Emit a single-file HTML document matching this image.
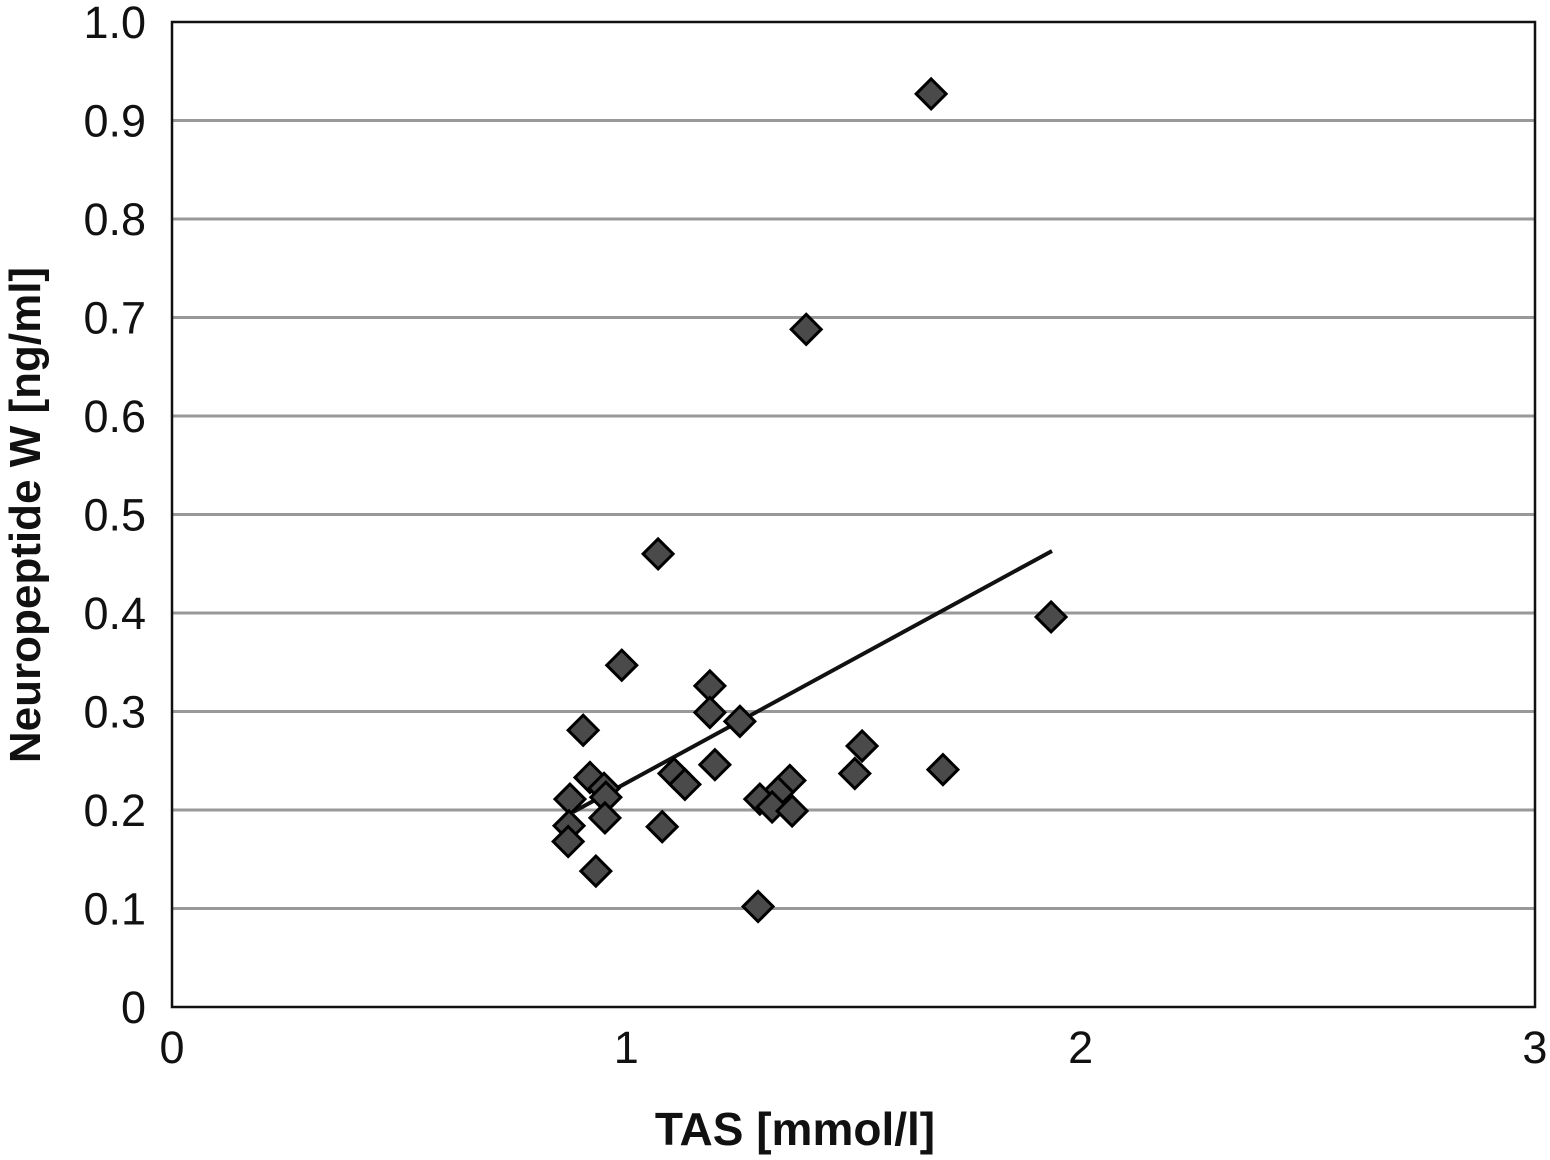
<!DOCTYPE html>
<html><head><meta charset="utf-8"><style>
body{margin:0;background:#fff;}
svg text{font-family:"Liberation Sans","DejaVu Sans",sans-serif;fill:#111;}
</style></head><body>
<svg width="1550" height="1155" viewBox="0 0 1550 1155" xmlns="http://www.w3.org/2000/svg">
<g id="grid"></g>
<rect x="172" y="22" width="1363" height="985" fill="none" stroke="#111" stroke-width="2.5"/>
<g id="yt"></g>
<g id="xt"></g>
<line id="trend" stroke="#111" stroke-width="4"/>
<g id="pts"></g>
<text x="795" y="1145" text-anchor="middle" font-size="46" font-weight="bold">TAS [mmol/l]</text>
<text transform="translate(40,515) rotate(-90)" text-anchor="middle" font-size="44" font-weight="bold">Neuropeptide W [ng/ml]</text>
</svg>
<script>
const xTicks=[0,1,2,3];
const yTicks=[0,0.1,0.2,0.3,0.4,0.5,0.6,0.7,0.8,0.9,1.0];
const yTickLabels=["0","0.1","0.2","0.3","0.4","0.5","0.6","0.7","0.8","0.9","1.0"];
const xVals=[1.671,1.396,1.070,1.935,0.990,1.184,1.184,1.250,0.905,1.519,0.920,1.195,1.105,1.129,1.503,1.697,0.951,0.955,0.876,0.953,1.360,1.334,1.294,1.321,1.365,0.874,0.872,1.079,0.933,1.290];
const yVals=[0.927,0.688,0.460,0.396,0.347,0.326,0.299,0.290,0.281,0.265,0.233,0.246,0.237,0.226,0.237,0.241,0.222,0.213,0.211,0.192,0.230,0.218,0.211,0.203,0.199,0.184,0.168,0.183,0.138,0.102];
const trendX=[0.883,1.937];
const trendY=[0.198,0.463];
const sx=v=>172+v*454.3, sy=v=>1007-v*985;
const NS="http://www.w3.org/2000/svg";
const mk=(t,a,p)=>{const e=document.createElementNS(NS,t);for(const k in a)e.setAttribute(k,a[k]);p.appendChild(e);return e;};
const grid=document.getElementById('grid'),yt=document.getElementById('yt'),xt=document.getElementById('xt'),pts=document.getElementById('pts');
yTicks.forEach((v,i)=>{
 if(v>0&&v<1){const l=mk('line',{x1:172,x2:1535,y1:sy(v),y2:sy(v),stroke:'#999','stroke-width':3},grid);
 
 }
 const t=mk('text',{x:146,y:sy(v)+16,'text-anchor':'end','font-size':45},yt);t.textContent=yTickLabels[i];
 
 
});
xTicks.forEach(v=>{
 const t=mk('text',{x:sx(v),y:1063,'text-anchor':'middle','font-size':45},xt);t.textContent=String(v);
 
 
});
const tr=document.getElementById('trend');
tr.setAttribute('x1',sx(trendX[0]));tr.setAttribute('y1',sy(trendY[0]));tr.setAttribute('x2',sx(trendX[1]));tr.setAttribute('y2',sy(trendY[1]));
xVals.forEach((x,i)=>{
 const cx=sx(x),cy=sy(yVals[i]),r=15;
 const p=mk('polygon',{points:`${cx},${cy-r} ${cx+r},${cy} ${cx},${cy+r} ${cx-r},${cy}`,fill:'#4a4a4a',stroke:'#000','stroke-width':3},pts);
 
 
});
</script>
</body></html>
